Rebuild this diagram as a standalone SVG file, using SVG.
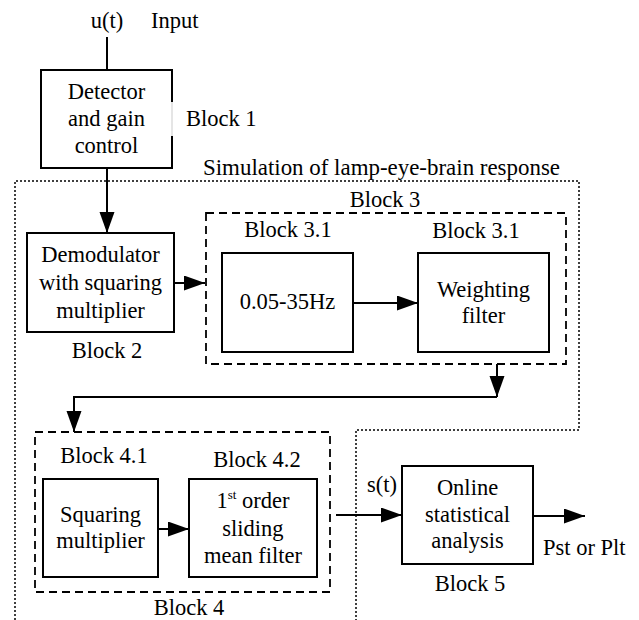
<svg xmlns="http://www.w3.org/2000/svg" width="639" height="620" viewBox="0 0 639 620">
<style>
.c{text-anchor:middle}
.box{fill:#fff;stroke:#000;stroke-width:2}
.dash{fill:none;stroke:#000;stroke-width:1.8;stroke-dasharray:8,5}
.dot{fill:none;stroke:#000;stroke-width:1.5;stroke-dasharray:2,2}
.ln{fill:none;stroke:#000;stroke-width:2}
.arr{fill:none;stroke:#000;stroke-width:2;marker-end:url(#ah)}
</style>
<defs>
<marker id="ah" markerUnits="userSpaceOnUse" markerWidth="22" markerHeight="16" refX="21" refY="7.5" orient="auto">
<path d="M0,0 L21,7.5 L0,15 z" fill="#000"/>
</marker>
</defs>
<rect width="639" height="620" fill="#fff"/>
<g font-family="Liberation Serif" font-size="22.5" fill="#000">
<g id="frame">
<path class="dot" d="M15,620 V181 H579 V430 H356 V620"/>
<text x="203" y="175" textLength="357" lengthAdjust="spacingAndGlyphs">Simulation of lamp-eye-brain response</text>
</g>
<g id="block3">
<rect class="dash" x="206" y="213" width="360" height="151"/>
<text class="c" x="385" y="207">Block 3</text>
</g>
<g id="block4">
<rect class="dash" x="35" y="432" width="295" height="160"/>
<text class="c" x="189" y="615">Block 4</text>
</g>
<g id="input">
<text class="c" x="107" y="28">u(t)</text>
<text x="151" y="28">Input</text>
</g>
<g id="block1">
<path class="ln" d="M172,102 V70 H41 V168 H172 V136"/>
<path d="M172,102 V136" stroke="#ddd" stroke-width="1.5"/>
<text class="c" x="106.5" y="99">Detector</text>
<text class="c" x="106.5" y="126">and gain</text>
<text class="c" x="106.5" y="153">control</text>
<text x="186" y="126">Block 1</text>
</g>
<g id="block2">
<rect class="box" x="27" y="233" width="147" height="99"/>
<text class="c" x="100.5" y="262">Demodulator</text>
<text class="c" x="100.5" y="290">with squaring</text>
<text class="c" x="100.5" y="318">multiplier</text>
<text class="c" x="107" y="358">Block 2</text>
</g>
<g id="block3-1a">
<rect class="box" x="222" y="253" width="131" height="99"/>
<text class="c" x="287.5" y="309">0.05-35Hz</text>
<text class="c" x="288" y="237">Block 3.1</text>
</g>
<g id="block3-1b">
<rect class="box" x="418" y="253" width="131" height="99"/>
<text class="c" x="483.5" y="297">Weighting</text>
<text class="c" x="483.5" y="323">filter</text>
<text class="c" x="476" y="238">Block 3.1</text>
</g>
<g id="block4-1">
<rect class="box" x="43" y="479" width="115" height="98"/>
<text class="c" x="100.5" y="522">Squaring</text>
<text class="c" x="100.5" y="548">multiplier</text>
<text class="c" x="104" y="463">Block 4.1</text>
</g>
<g id="block4-2">
<rect class="box" x="189" y="479" width="128" height="98"/>
<text class="c" x="253" y="508">1<tspan font-size="13" dy="-9">st</tspan><tspan dy="9"> order</tspan></text>
<text class="c" x="253" y="536">sliding</text>
<text class="c" x="253" y="563">mean filter</text>
<text class="c" x="257" y="467">Block 4.2</text>
</g>
<g id="block5">
<rect class="box" x="402" y="466" width="131" height="98"/>
<text class="c" x="467.5" y="495">Online</text>
<text class="c" x="467.5" y="522">statistical</text>
<text class="c" x="467.5" y="548">analysis</text>
<text class="c" x="470" y="591">Block 5</text>
</g>
<g id="output">
<text x="367" y="492">s(t)</text>
<text x="543" y="555">Pst or Plt</text>
</g>
</g>
<g id="connectors">
<path class="ln" d="M107,37 V70"/>
<path class="arr" d="M107,168 V233"/>
<path class="arr" d="M174,283 H205"/>
<path class="arr" d="M353,303 H418"/>
<path class="arr" d="M497,364 V397"/>
<path class="arr" d="M497,397 H74 V432"/>
<path class="arr" d="M158,529 H189"/>
<path class="arr" d="M336,515 H402"/>
<path class="arr" d="M533,516 H585"/>
</g>
</svg>
